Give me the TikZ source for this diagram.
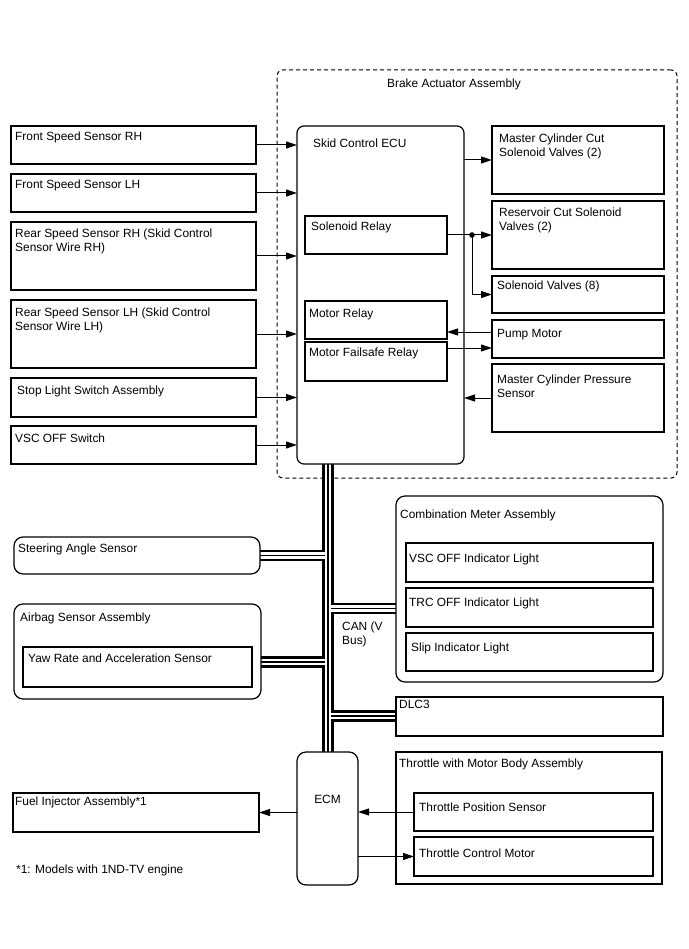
\documentclass[tikz,border=0pt]{standalone}
\usepackage{fontspec}
\setmainfont{Liberation Sans}
\usetikzlibrary{arrows.meta,calc}
\newcommand\lbfont{\fontsize{11.9}{14}\selectfont}
\newcommand\mkbox[6]{\node[#6, minimum width={#4-#2}, minimum height={#5-#3}] (#1) at (#2,#3) {};}
\newcommand\tx[3]{\node[lbl] at ($(#1.north west)+#2$) {#3};}
\begin{document}
\begin{tikzpicture}[x=1pt,y=-1pt,
  box/.style={draw, line width=1.2pt, fill=white, inner sep=0pt, outer sep=0pt, anchor=north west},
  rbox/.style={box, rounded corners=9pt},
  ebox/.style={box, rounded corners=7pt},
  lbl/.style={anchor=base west, inner sep=0pt, font=\lbfont},
  arr/.style={-{Triangle[length=11pt,width=7pt]}, line width=1pt},
  busblack/.style={line width=11.6pt, black},
  buswhite/.style={line width=2.5pt, white}]
\useasboundingbox (0,0) rectangle (688,949);
% brake actuator (dashed)
\node[draw, dashed, dash pattern=on 4pt off 3pt, line width=1pt, rounded corners=6pt, inner sep=0pt, outer sep=0pt, anchor=north west, minimum width=400, minimum height=408] (baa) at (277,70) {};
\tx{baa}{(110,18)}{Brake Actuator Assembly}
% CAN bus
\coordinate (bt) at (328,460);
\coordinate (bb) at (328,756);
\coordinate (chL) at (325.8,0);
\coordinate (chR) at (330.2,0);
\coordinate (jA) at (328,662);
\coordinate (jC) at (328,608.5);
\coordinate (jS) at (328,555.5);
\coordinate (jD) at (328,716);
\coordinate (steerE) at (260,555.5);
\coordinate (airE) at (261,662);
\coordinate (combW) at (396,608.5);
\coordinate (dlcW) at (396,716);
\draw[busblack] (bt) -- (bb);
\draw[busblack] (steerE) -- (jS);
\draw[busblack] (airE) -- (jA);
\draw[busblack] (jC) -- (combW);
\draw[busblack] (jD) -- (dlcW);
\draw[buswhite] ([xshift=-2.2pt]bt) -- ([xshift=-2.2pt]bb);
\draw[buswhite] ([xshift=2.2pt]bt) -- ([xshift=2.2pt]bb);
\foreach \s in {2.2pt,-2.2pt}{
  \draw[buswhite] ([yshift=\s]steerE) -- ([yshift=\s]steerE -| chL);
  \draw[buswhite] ([yshift=\s]airE) -- ([yshift=\s]airE -| chL);
  \draw[buswhite] ([yshift=\s]combW -| chR) -- ([yshift=\s]combW);
  \draw[buswhite] ([yshift=\s]dlcW -| chR) -- ([yshift=\s]dlcW);
}
\node[lbl] (canl1) at (342,630) {CAN (V};
\node[lbl] (canl2) at (342,644) {Bus)};
% left boxes
\mkbox{fsrh}{11}{126}{256}{164}{box}
\mkbox{fslh}{11}{174}{256}{212}{box}
\mkbox{rsrh}{11}{222}{256}{290}{box}
\mkbox{rslh}{11}{300}{256}{368}{box}
\mkbox{stop}{11}{378}{256}{417}{box}
\mkbox{vscsw}{11}{426}{256}{464}{box}
\tx{fsrh}{(4,15)}{Front Speed Sensor RH}
\tx{fslh}{(4,15)}{Front Speed Sensor LH}
\tx{rsrh}{(4,16)}{Rear Speed Sensor RH (Skid Control}
\tx{rsrh}{(4,30)}{Sensor Wire RH)}
\tx{rslh}{(4,16)}{Rear Speed Sensor LH (Skid Control}
\tx{rslh}{(4,30)}{Sensor Wire LH)}
\tx{stop}{(6,16)}{Stop Light Switch Assembly}
\tx{vscsw}{(4,16)}{VSC OFF Switch}
% ECU
\mkbox{ecu}{297}{126}{464}{464}{ebox}
\tx{ecu}{(16,22)}{Skid Control ECU}
\mkbox{solrel}{305}{216}{447}{254}{box}
\mkbox{motrel}{305}{301}{447}{339}{box}
\mkbox{motfs}{305}{342}{447}{381}{box}
\tx{solrel}{(6,15)}{Solenoid Relay}
\tx{motrel}{(4,16)}{Motor Relay}
\tx{motfs}{(4,14)}{Motor Failsafe Relay}
% right boxes
\mkbox{mccut}{492}{126}{664}{194}{box}
\mkbox{rescut}{492}{201}{664}{269}{box}
\mkbox{sv8}{492}{276}{664}{313}{box}
\mkbox{pump}{492}{320}{664}{358}{box}
\mkbox{mcps}{492}{364}{664}{432}{box}
\tx{mccut}{(7,17)}{Master Cylinder Cut}
\tx{mccut}{(7,31)}{Solenoid Valves (2)}
\tx{rescut}{(7,16)}{Reservoir Cut Solenoid}
\tx{rescut}{(7,30)}{Valves (2)}
\tx{sv8}{(5,14)}{Solenoid Valves (8)}
\tx{pump}{(5,17)}{Pump Motor}
\tx{mcps}{(5,19)}{Master Cylinder Pressure}
\tx{mcps}{(5,33)}{Sensor}
% lower boxes
\mkbox{steer}{14}{537}{260}{574}{rbox}
\mkbox{airbag}{14}{604}{261}{699}{rbox}
\mkbox{yaw}{23}{647}{252}{687}{box}
\tx{steer}{(4,15)}{Steering Angle Sensor}
\tx{airbag}{(6,17)}{Airbag Sensor Assembly}
\tx{yaw}{(5,15)}{Yaw Rate and Acceleration Sensor}
\mkbox{comb}{396}{496}{663}{682}{rbox}
\mkbox{vscind}{406}{543}{653}{582}{box}
\mkbox{trc}{406}{588}{653}{627}{box}
\mkbox{slip}{406}{633}{653}{671}{box}
\tx{comb}{(4,22)}{Combination Meter Assembly}
\tx{vscind}{(3,19)}{VSC OFF Indicator Light}
\tx{trc}{(3,18)}{TRC OFF Indicator Light}
\tx{slip}{(5,18)}{Slip Indicator Light}
\mkbox{dlc}{396}{697}{663}{736}{box}
\tx{dlc}{(3,11)}{DLC3}
\mkbox{ecm}{297}{752}{358}{885}{rbox}
\node[anchor=base, inner sep=0pt, font=\lbfont] (ecml) at ($(ecm.north)+(0,51)$) {ECM};
\mkbox{thr}{396}{752}{662}{884}{box}
\mkbox{tps}{414}{793}{653}{831}{box}
\mkbox{tcm}{414}{837}{653}{876}{box}
\tx{thr}{(3,15)}{Throttle with Motor Body Assembly}
\tx{tps}{(5,18)}{Throttle Position Sensor}
\tx{tcm}{(5,20)}{Throttle Control Motor}
\mkbox{fuel}{13}{793}{259}{832}{box}
\tx{fuel}{(2,12)}{Fuel Injector Assembly*1}
\node[lbl] (note) at (16,873) {*1: Models with 1ND-TV engine};
% arrows
\foreach \n in {fsrh,fslh,rsrh,rslh,stop,vscsw}{
  \draw[arr] (\n.east) -- (\n.east -| ecu.west);
}
\draw[arr] (mccut.west -| ecu.east) -- (mccut.west);
\coordinate (j1) at (472,235);
\draw[arr] (solrel.east) -- (rescut.west);
\draw[arr] (j1) |- (sv8.west);
\fill (j1) circle (2.8pt);
\coordinate (pmA) at ($(pump.west)+(0,-7)$);
\coordinate (pmB) at ($(pump.west)+(0,9)$);
\draw[arr] (pmA) -- (pmA -| motrel.east);
\draw[arr] (pmB -| motfs.east) -- (pmB);
\draw[arr] (mcps.west) -- (mcps.west -| ecu.east);
\draw[arr] (tps.west) -- (tps.west -| ecm.east);
\draw[arr] (tcm.west -| ecm.east) -- (tcm.west);
\draw[arr] (fuel.east -| ecm.west) -- (fuel.east);
\end{tikzpicture}
\end{document}
